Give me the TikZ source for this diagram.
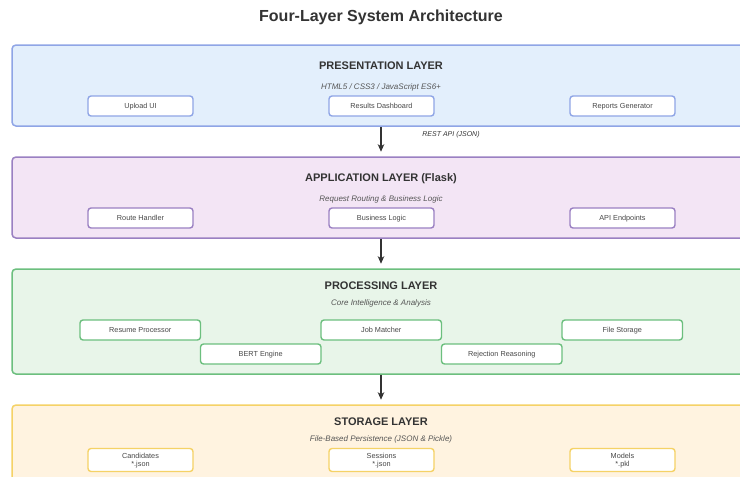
\documentclass[tikz,border=0pt]{standalone}
\usepackage{fontspec}
\setmainfont{Liberation Sans}
\usetikzlibrary{arrows.meta}
\definecolor{txt}{HTML}{333333}
\definecolor{subtxt}{HTML}{555555}
\definecolor{pfill}{HTML}{E3EFFC}
\definecolor{pline}{HTML}{8FA5E6}
\definecolor{afill}{HTML}{F3E5F5}
\definecolor{aline}{HTML}{9A80C2}
\definecolor{gfill}{HTML}{E8F5E9}
\definecolor{gline}{HTML}{6CBF7E}
\definecolor{sfill}{HTML}{FFF3E0}
\definecolor{sline}{HTML}{F5D266}
\tikzset{
  layerbox/.style={draw=#1, line width=1.5pt, rounded corners=4pt, minimum width=738pt, inner sep=0pt},
  compbox/.style={draw=#1, fill=white, line width=1.4pt, rounded corners=3pt, inner sep=0pt,
    text=txt!90, font=\fontsize{7.3}{8.5}\selectfont, align=center},
  onel/.style={text height=5.3pt, text depth=0.2pt},
  twol/.style={text depth=0pt},
  layertitle/.style={text=txt, font=\bfseries\fontsize{11}{13}\selectfont, inner sep=0pt},
  layersub/.style={text=subtxt, font=\itshape\fontsize{8}{9}\selectfont, inner sep=0pt},
  flow/.style={draw=txt, line width=1.3pt, -{Stealth[length=7.5pt,width=6.5pt,inset=2pt]}, shorten >=4.5pt}
}
\begin{document}
\begin{tikzpicture}[x=1pt,y=-1pt]
\useasboundingbox (0,0) rectangle (740,477);
\clip (0,0) rectangle (740,477);
\fill[white] (0,0) rectangle (740,477);
\node[text=txt, font=\bfseries\fontsize{16}{19}\selectfont, inner sep=0pt] (title) at (381,17) {Four-Layer System Architecture};

% Presentation
\node[layerbox=pline, fill=pfill, minimum height=81pt] (pres) at (381,85.5) {};
\node[layertitle] (prest) at (381,66) {PRESENTATION LAYER};
\node[layersub] (press) at (381,87) {HTML5 / CSS3 / JavaScript ES6+};
\node[compbox=pline, onel, minimum width=105pt, minimum height=20pt] (upload) at (140.5,106) {Upload UI};
\node[compbox=pline, onel, minimum width=105pt, minimum height=20pt] (dash) at (381.5,106) {Results Dashboard};
\node[compbox=pline, onel, minimum width=105pt, minimum height=20pt] (reports) at (622.5,106) {Reports Generator};

% Application
\node[layerbox=aline, fill=afill, minimum height=81pt] (app) at (381,197.5) {};
\node[layertitle] (appt) at (381,179) {APPLICATION LAYER (Flask)};
\node[layersub] (apps) at (381,199) {Request Routing \& Business Logic};
\node[compbox=aline, onel, minimum width=105pt, minimum height=20pt] (route) at (140.5,218) {Route Handler};
\node[compbox=aline, onel, minimum width=105pt, minimum height=20pt] (logic) at (381.5,218) {Business Logic};
\node[compbox=aline, onel, minimum width=105pt, minimum height=20pt] (api) at (622.5,218) {API Endpoints};

% Processing
\node[layerbox=gline, fill=gfill, minimum height=105pt] (proc) at (381,321.5) {};
\node[layertitle] (proct) at (381,286) {PROCESSING LAYER};
\node[layersub] (procs) at (381,303) {Core Intelligence \& Analysis};
\node[compbox=gline, onel, minimum width=120.5pt, minimum height=20pt] (resume) at (140.25,330) {Resume Processor};
\node[compbox=gline, onel, minimum width=120.5pt, minimum height=20pt] (matcher) at (381.25,330) {Job Matcher};
\node[compbox=gline, onel, minimum width=120.5pt, minimum height=20pt] (files) at (622.25,330) {File Storage};
\node[compbox=gline, onel, minimum width=120.5pt, minimum height=20pt] (bert) at (260.75,354) {BERT Engine};
\node[compbox=gline, onel, minimum width=120.5pt, minimum height=20pt] (reject) at (501.75,354) {Rejection Reasoning};

% Storage
\node[layerbox=sline, fill=sfill, minimum height=81pt] (stor) at (381,445.5) {};
\node[layertitle] (stort) at (381,422) {STORAGE LAYER};
\node[layersub] (stors) at (381,439) {File-Based Persistence (JSON \& Pickle)};
\node[compbox=sline, twol, minimum width=105pt, minimum height=23pt] (cand) at (140.5,460) {Candidates\\*.json};
\node[compbox=sline, twol, minimum width=105pt, minimum height=23pt] (sess) at (381.5,460) {Sessions\\*.json};
\node[compbox=sline, twol, minimum width=105pt, minimum height=23pt] (models) at (622.5,460) {Models\\*.pkl};

% Arrows
\draw[flow] (pres.south) -- (app.north);
\draw[flow] (app.south) -- (proc.north);
\draw[flow] (proc.south) -- (stor.north);
\node[text=txt, font=\itshape\fontsize{7}{8}\selectfont, inner sep=0pt] (restlbl) at (451,135) {REST API (JSON)};
\end{tikzpicture}
\end{document}
